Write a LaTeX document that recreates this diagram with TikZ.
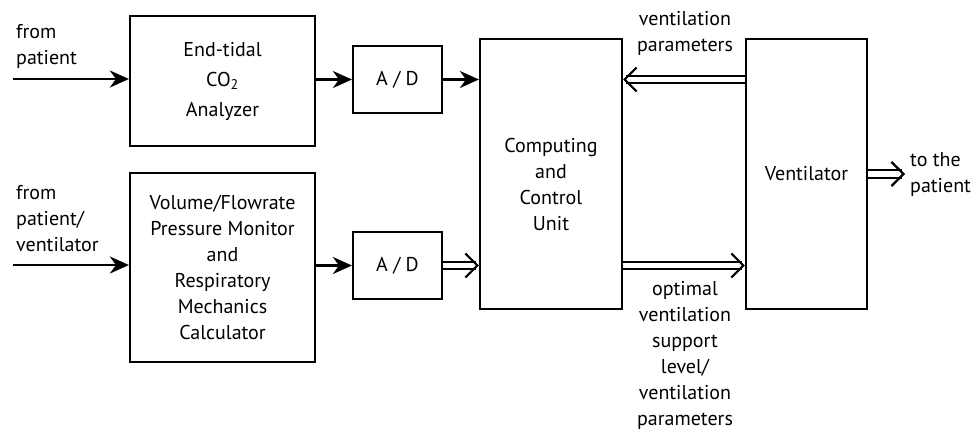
\documentclass[tikz,border=0pt]{standalone}
\usepackage{fontspec}
\setmainfont{PT Sans}
\usetikzlibrary{arrows.meta}
\begin{document}
\begin{tikzpicture}[x=1pt,y=-1pt,
  box/.style={draw,line width=2.2pt,inner sep=0pt,align=center},
  lbl/.style={align=center,inner sep=0pt},
  sarrow/.style={line width=2.4pt,-{Stealth[length=19pt,width=17pt,inset=6pt]}},
  darrow/.style={double,line width=2.2pt,double distance=5.5pt,-{Straight Barb[line width=2.2pt,length=12pt,width=24pt]}},
  font=\fontsize{20}{26}\selectfont]
\useasboundingbox (0,0) rectangle (976,432);
\node[box,minimum width=185pt,minimum height=130pt] (etc) at (222.5,81) {End-tidal\\[4pt]CO\textsubscript{2}\\[4pt]Analyzer};
\node[box,minimum width=185pt,minimum height=189pt] (vol) at (222.5,267.5) {Volume/Flowrate\\Pressure Monitor\\and\\Respiratory\\Mechanics\\Calculator};
\node[box,minimum width=89pt,minimum height=67pt] (ad1) at (397.5,79.5) {A / D};
\node[box,minimum width=89pt,minimum height=67pt] (ad2) at (397.5,265.5) {A / D};
\node[box,minimum width=142pt,minimum height=270pt] (ccu) at (551,174) {};
\node[lbl] (ccut) at (551,184) {Computing\\and\\Control\\Unit};
\node[box,minimum width=121pt,minimum height=270pt] (vent) at (806.5,174) {Ventilator};
\coordinate (in1) at (13,79);
\coordinate (in2) at (13,265);
\node[lbl,anchor=west,align=left] (fp) at (16,46) {from\\patient};
\node[lbl,anchor=west,align=left] (fpv) at (16,219) {from\\patient/\\ventilator};
\draw[sarrow] (in1) -- (etc.west|-in1);
\draw[sarrow] (in2) -- (vol.west|-in2);
\draw[sarrow] (etc.east|-ad1) -- (ad1.west);
\draw[sarrow] (vol.east|-ad2) -- (ad2.west);
\draw[sarrow] (ad1.east) -- (ccu.west|-ad1);
\draw[darrow] (ad2.east) -- (ccu.west|-ad2);
\draw[darrow] (vent.west|-ad1) -- (ccu.east|-ad1);
\draw[darrow] (ccu.east|-ad2) -- (vent.west|-ad2);
\coordinate (out) at (905,174);
\draw[darrow] (vent.east) -- (out);
\node[lbl,anchor=west,align=left] (tp) at (910,174) {to the\\patient};
\node[lbl] (vp) at (685,33) {ventilation\\parameters};
\node[lbl] (ov) at (685,355) {optimal\\ventilation\\support\\level/\\ventilation\\parameters};
\end{tikzpicture}
\end{document}
